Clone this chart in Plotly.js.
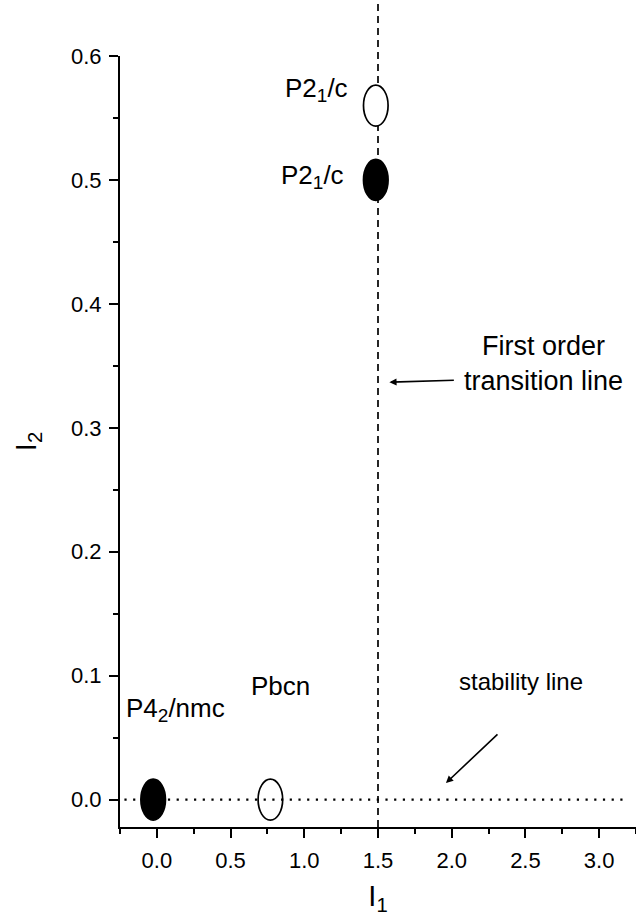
<!DOCTYPE html>
<html>
<head>
<meta charset="utf-8">
<script src="https://cdn.plot.ly/plotly-3.0.1.min.js"></script>
<style>
  html, body { margin: 0; padding: 0; background: #fff; }
  #chart { width: 636px; height: 916px; }
</style>
</head>
<body>
<div id="chart"></div>
<script>
// Phase points in the (I1, I2) plane
const SUB = (s) => '<sub><span style="font-size:19px">' + s + '</span></sub>';
const phaseNames  = ['P4' + SUB('2') + '/nmc', 'Pbcn', 'P2' + SUB('1') + '/c', 'P2' + SUB('1') + '/c'];
const phaseI1     = [-0.025, 0.77, 1.485, 1.485];
const phaseI2     = [0.0, 0.0, 0.50, 0.56];
const phaseFilled = [true, false, true, false];

// Boundary lines
const transitionI1 = 1.5;          // first order transition line (vertical)
const stabilityI2  = 0.0;          // stability line (horizontal)
const stabilityI1Span = [-0.22, 3.2];

// Axis ticks
const xTicks = [0.0, 0.5, 1.0, 1.5, 2.0, 2.5, 3.0];
const xTickText = ['0.0', '0.5', '1.0', '1.5', '2.0', '2.5', '3.0'];
const yTicks = [0.0, 0.1, 0.2, 0.3, 0.4, 0.5, 0.6];
const yTickText = ['0.0', '0.1', '0.2', '0.3', '0.4', '0.5', '0.6'];

// Label offsets (pixels) of each phase name from its point
const labelShiftX = [22, 10, -63, -59];
const labelShiftY = [90, 114, 3, 16];

const FONT = 'Liberation Sans, Arial, sans-serif';

const shapes = [];

// vertical dashed transition line, running past the top of the axis
shapes.push({
  type: 'line', xref: 'x', yref: 'paper',
  x0: transitionI1, x1: transitionI1, y0: 0, y1: 1.08,
  line: { color: '#000', width: 1.7, dash: '7px,5px' },
  layer: 'above'
});

// ellipses for the phases
for (let i = 0; i < phaseI1.length; i++) {
  shapes.push({
    type: 'circle', xref: 'x', yref: 'y',
    xsizemode: 'pixel', ysizemode: 'pixel',
    xanchor: phaseI1[i], yanchor: phaseI2[i],
    x0: -12.3, x1: 12.3, y0: -20.5, y1: 20.5,
    fillcolor: phaseFilled[i] ? '#000' : '#fff',
    line: { color: '#000', width: 1.7 },
    layer: 'above'
  });
}

// horizontal dotted stability line
shapes.push({
  type: 'line', xref: 'x', yref: 'y',
  x0: stabilityI1Span[0], x1: stabilityI1Span[1], y0: stabilityI2, y1: stabilityI2,
  line: { color: '#000', width: 2.2, dash: '2.2px,6.5px' },
  layer: 'above'
});

const annotations = [];
for (let i = 0; i < phaseI1.length; i++) {
  annotations.push({
    x: phaseI1[i], y: phaseI2[i], xref: 'x', yref: 'y',
    text: phaseNames[i], showarrow: false,
    xshift: labelShiftX[i], yshift: labelShiftY[i],
    font: { family: FONT, size: 26, color: '#000' }
  });
}

annotations.push({
  x: 2.62, y: 0.352, xref: 'x', yref: 'y',
  text: 'First order<br>transition line', showarrow: false,
  font: { family: FONT, size: 27, color: '#000' }
});
annotations.push({
  x: 1.577, y: 0.3368, xref: 'x', yref: 'y',
  text: '', showarrow: true, arrowhead: 2, arrowsize: 0.9, arrowwidth: 1.6,
  arrowcolor: '#000', ax: 66, ay: -2, standoff: 0
});

annotations.push({
  x: 2.47, y: 0.095, xref: 'x', yref: 'y',
  text: 'stability line', showarrow: false,
  font: { family: FONT, size: 24, color: '#000' }
});
annotations.push({
  x: 1.961, y: 0.0134, xref: 'x', yref: 'y',
  text: '', showarrow: true, arrowhead: 2, arrowsize: 0.9, arrowwidth: 1.6,
  arrowcolor: '#000', ax: 53, ay: -50, standoff: 0
});

const axisCommon = {
  showline: true, linecolor: '#000', linewidth: 2,
  ticks: 'outside', ticklen: 9, tickwidth: 2, tickcolor: '#000',
  showgrid: false, zeroline: false, mirror: false,
  tickfont: { family: FONT, size: 22, color: '#000' },
  fixedrange: true
};

const layout = {
  width: 636, height: 916,
  margin: { l: 120, r: 0, t: 56, b: 89 },
  paper_bgcolor: '#fff', plot_bgcolor: '#fff',
  showlegend: false,
  xaxis: Object.assign({}, axisCommon, {
    range: [-0.25, 3.25],
    tickmode: 'array', tickvals: xTicks, ticktext: xTickText,
    ticklabelstandoff: 4,
    minor: { dtick: 0.25, tick0: 0, ticks: 'outside', ticklen: 5, tickwidth: 2, tickcolor: '#000' },
    title: { text: 'I<sub>1</sub>', font: { family: FONT, size: 29, color: '#000' }, standoff: 24 }
  }),
  yaxis: Object.assign({}, axisCommon, {
    range: [-0.0221, 0.6],
    tickmode: 'array', tickvals: yTicks, ticktext: yTickText,
    ticklabelstandoff: 3,
    minor: { dtick: 0.05, tick0: 0, ticks: 'outside', ticklen: 5, tickwidth: 2, tickcolor: '#000' },
    title: { text: 'I<sub>2</sub>', font: { family: FONT, size: 29, color: '#000' }, standoff: 26 }
  }),
  shapes: shapes,
  annotations: annotations
};

// invisible point trace so hovering still reports the phase positions
const trace = {
  x: phaseI1, y: phaseI2, mode: 'markers', type: 'scatter',
  marker: { size: 1, opacity: 0 }, hoverinfo: 'x+y', cliponaxis: false
};

Plotly.newPlot('chart', [trace], layout, { displayModeBar: false, staticPlot: true });
</script>
</body>
</html>
